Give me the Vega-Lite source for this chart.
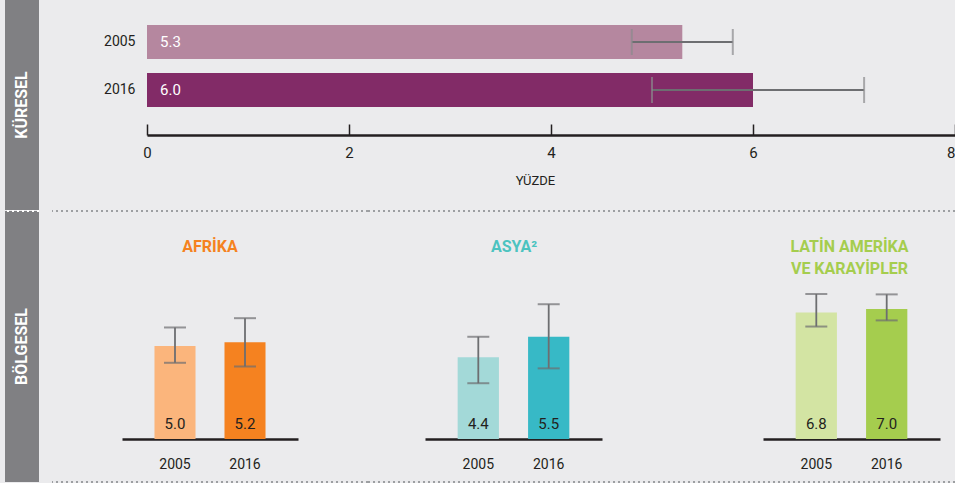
{
  "$schema": "https://vega.github.io/schema/vega-lite/v6.json",
  "background": "#ebebed",
  "padding": {"left": 4, "top": 0, "right": 0, "bottom": 0},
  "config": {
    "view": {"stroke": null},
    "font": "Roboto, Liberation Sans, sans-serif",
    "axis": {"grid": false}
  },
  "spacing": 11,
  "resolve": {"scale": {"x": "independent", "y": "independent"}},
  "hconcat": [
    {
      "spacing": 0,
      "resolve": {"scale": {"x": "independent", "y": "independent"}},
      "vconcat": [
        {
          "width": 34,
          "height": 210,
          "view": {"fill": "#808083", "stroke": null},
          "data": {"values": [{"label": "KÜRESEL"}]},
          "mark": {"type": "text", "angle": 270, "color": "#ffffff", "fontSize": 16, "fontWeight": "bold"},
          "encoding": {"text": {"field": "label", "type": "nominal"}}
        },
        {
          "width": 34,
          "height": 271,
          "view": {"fill": "#808083", "stroke": null},
          "layer": [
            {
              "data": {"values": [{"label": "BÖLGESEL"}]},
              "mark": {"type": "text", "angle": 270, "color": "#ffffff", "fontSize": 16, "fontWeight": "bold"},
              "encoding": {"text": {"field": "label", "type": "nominal"}}
            },
            {
              "data": {"values": [{"edge": "top"}]},
              "mark": {"type": "rule", "color": "#ffffff", "strokeWidth": 2, "strokeDash": [2, 3]},
              "encoding": {"y": {"field": "edge", "type": "nominal", "scale": {"type": "point", "padding": 0, "domain": ["top", "bottom"]}, "axis": null}}
            }
          ]
        }
      ]
    },
    {
      "spacing": 0,
      "resolve": {"scale": {"x": "independent", "y": "independent"}},
      "vconcat": [
        {
          "width": 903,
          "height": 210,
          "data": {"values": [
            {"year": "2005", "value": 5.3, "lo": 4.8, "hi": 5.8},
            {"year": "2016", "value": 6.0, "lo": 5.0, "hi": 7.1}
          ]},
          "encoding": {
            "y": {
              "field": "year", "type": "nominal",
              "scale": {"range": [18, 114], "paddingInner": 0.2917, "paddingOuter": 0.1458},
              "axis": {"orient": "left", "offset": -95, "title": null, "domain": false, "ticks": false, "labelPadding": 12, "labelFontSize": 14, "labelColor": "#231f20"}
            }
          },
          "layer": [
            {
              "mark": {"type": "bar"},
              "encoding": {
                "x": {
                  "field": "value", "type": "quantitative",
                  "scale": {"domain": [0, 8], "range": [95, 903], "nice": false},
                  "axis": {
                    "orient": "bottom", "offset": -75, "values": [0, 2, 4, 6, 8], "format": "d",
                    "title": "YÜZDE", "titleFontSize": 13, "titleFontWeight": "normal", "titleColor": "#231f20",
                    "titleX": 483, "titleY": 39, "titleBaseline": "top", "titleAlign": "center",
                    "domainColor": "#231f20", "domainWidth": 2.5,
                    "ticks": true, "tickColor": "#231f20", "tickWidth": 1.5, "tickSize": -11,
                    "labelPadding": 21, "labelFontSize": 15, "labelColor": "#231f20", "labelFlush": false,
                    "labelAlign": {"expr": "datum.value == 8 ? 'right' : 'center'"}
                  }
                },
                "color": {"condition": {"test": "datum.year === '2005'", "value": "#b5879f"}, "value": "#822b67"}
              }
            },
            {
              "mark": {"type": "rule", "color": "#6d6e71", "strokeWidth": 1.8},
              "encoding": {"x": {"field": "lo", "type": "quantitative"}, "x2": {"field": "hi"}}
            },
            {
              "mark": {"type": "tick", "color": "#8a8a8d", "thickness": 2, "size": 26},
              "encoding": {"x": {"field": "lo", "type": "quantitative"}}
            },
            {
              "mark": {"type": "tick", "color": "#8a8a8d", "thickness": 2, "size": 26},
              "encoding": {"x": {"field": "hi", "type": "quantitative"}}
            },
            {
              "mark": {"type": "text", "align": "left", "dx": 13, "color": "#ffffff", "fontSize": 15},
              "encoding": {
                "x": {"datum": 0, "type": "quantitative"},
                "text": {"field": "value", "type": "quantitative", "format": ".1f"}
              }
            }
          ]
        },
        {
          "bounds": "flush",
          "spacing": 0,
          "resolve": {"scale": {"x": "independent", "y": "independent"}},
          "hconcat": [
            {
              "width": 316,
              "height": 271,
              "title": {"text": "AFRİKA", "color": "#f58220", "fontSize": 16, "fontWeight": "bold", "anchor": "middle", "frame": "group", "offset": -45},
              "resolve": {"scale": {"y": "independent"}},
              "layer": [
                {
                  "data": {"values": [
                    {"year": "2005", "value": 5.0, "lo": 4.1, "hi": 6.0},
                    {"year": "2016", "value": 5.2, "lo": 3.9, "hi": 6.5}
                  ]},
                  "encoding": {
                    "x": {
                      "field": "year", "type": "nominal",
                      "scale": {"range": [70, 246], "paddingInner": 0.414, "paddingOuter": 0.464},
                      "axis": {"orient": "bottom", "offset": -43, "title": null, "ticks": false, "domainColor": "#231f20", "domainWidth": 2.5, "labelPadding": 18, "labelFontSize": 14, "labelColor": "#231f20", "labelAngle": 0}
                    }
                  },
                  "layer": [
                    {
                      "mark": {"type": "bar"},
                      "encoding": {
                        "y": {"field": "value", "type": "quantitative", "scale": {"domain": [0, 8.5], "range": [228, 70], "nice": false}, "axis": null},
                        "color": {"condition": {"test": "datum.year === '2005'", "value": "#fbb57c"}, "value": "#f58220"}
                      }
                    },
                    {
                      "mark": {"type": "rule", "color": "#6d6e71", "strokeWidth": 1.8},
                      "encoding": {"y": {"field": "lo", "type": "quantitative"}, "y2": {"field": "hi"}}
                    },
                    {
                      "mark": {"type": "tick", "color": "#6d6e71", "thickness": 2, "size": 22},
                      "encoding": {"y": {"field": "lo", "type": "quantitative"}}
                    },
                    {
                      "mark": {"type": "tick", "color": "#6d6e71", "thickness": 2, "size": 22},
                      "encoding": {"y": {"field": "hi", "type": "quantitative"}}
                    },
                    {
                      "mark": {"type": "text", "dy": -10, "baseline": "alphabetic", "fontSize": 15, "color": "#231f20"},
                      "encoding": {
                        "y": {"datum": 0, "type": "quantitative"},
                        "text": {"field": "value", "type": "quantitative", "format": ".1f"}
                      }
                    }
                  ]
                },
                {
                  "data": {"values": [{"edge": "top"}, {"edge": "bottom"}]},
                  "mark": {"type": "rule", "color": "#9d9fa2", "strokeWidth": 2, "strokeDash": [2, 3]},
                  "encoding": {"y": {"field": "edge", "type": "nominal", "scale": {"type": "point", "padding": 0, "domain": ["top", "bottom"]}, "axis": null}}
                }
              ]
            },
            {
              "width": 292,
              "height": 271,
              "title": {"text": "ASYA²", "color": "#4cc3c0", "fontSize": 16, "fontWeight": "bold", "anchor": "middle", "frame": "group", "offset": -45},
              "resolve": {"scale": {"y": "independent"}},
              "layer": [
                {
                  "data": {"values": [
                    {"year": "2005", "value": 4.4, "lo": 3.0, "hi": 5.5},
                    {"year": "2016", "value": 5.5, "lo": 3.8, "hi": 7.25}
                  ]},
                  "encoding": {
                    "x": {
                      "field": "year", "type": "nominal",
                      "scale": {"range": [57, 234], "paddingInner": 0.414, "paddingOuter": 0.464},
                      "axis": {"orient": "bottom", "offset": -43, "title": null, "ticks": false, "domainColor": "#231f20", "domainWidth": 2.5, "labelPadding": 18, "labelFontSize": 14, "labelColor": "#231f20", "labelAngle": 0}
                    }
                  },
                  "layer": [
                    {
                      "mark": {"type": "bar"},
                      "encoding": {
                        "y": {"field": "value", "type": "quantitative", "scale": {"domain": [0, 8.5], "range": [228, 70], "nice": false}, "axis": null},
                        "color": {"condition": {"test": "datum.year === '2005'", "value": "#a3d9d8"}, "value": "#37b9c6"}
                      }
                    },
                    {
                      "mark": {"type": "rule", "color": "#6d6e71", "strokeWidth": 1.8},
                      "encoding": {"y": {"field": "lo", "type": "quantitative"}, "y2": {"field": "hi"}}
                    },
                    {
                      "mark": {"type": "tick", "color": "#6d6e71", "thickness": 2, "size": 22},
                      "encoding": {"y": {"field": "lo", "type": "quantitative"}}
                    },
                    {
                      "mark": {"type": "tick", "color": "#6d6e71", "thickness": 2, "size": 22},
                      "encoding": {"y": {"field": "hi", "type": "quantitative"}}
                    },
                    {
                      "mark": {"type": "text", "dy": -10, "baseline": "alphabetic", "fontSize": 15, "color": "#231f20"},
                      "encoding": {
                        "y": {"datum": 0, "type": "quantitative"},
                        "text": {"field": "value", "type": "quantitative", "format": ".1f"}
                      }
                    }
                  ]
                },
                {
                  "data": {"values": [{"edge": "top"}, {"edge": "bottom"}]},
                  "mark": {"type": "rule", "color": "#9d9fa2", "strokeWidth": 2, "strokeDash": [2, 3]},
                  "encoding": {"y": {"field": "edge", "type": "nominal", "scale": {"type": "point", "padding": 0, "domain": ["top", "bottom"]}, "axis": null}}
                }
              ]
            },
            {
              "width": 295,
              "height": 271,
              "title": {"text": "LATİN AMERİKA", "subtitle": "VE KARAYİPLER", "color": "#a5cd4e", "subtitleColor": "#a5cd4e", "fontSize": 16, "subtitleFontSize": 16, "fontWeight": "bold", "subtitleFontWeight": "bold", "subtitlePadding": 6, "anchor": "middle", "frame": "group", "offset": -67, "dx": 42},
              "resolve": {"scale": {"y": "independent"}},
              "layer": [
                {
                  "data": {"values": [
                    {"year": "2005", "value": 6.8, "lo": 6.05, "hi": 7.8},
                    {"year": "2016", "value": 7.0, "lo": 6.38, "hi": 7.78}
                  ]},
                  "encoding": {
                    "x": {
                      "field": "year", "type": "nominal",
                      "scale": {"range": [103, 280], "paddingInner": 0.414, "paddingOuter": 0.464},
                      "axis": {"orient": "bottom", "offset": -43, "title": null, "ticks": false, "domainColor": "#231f20", "domainWidth": 2.5, "labelPadding": 18, "labelFontSize": 14, "labelColor": "#231f20", "labelAngle": 0}
                    }
                  },
                  "layer": [
                    {
                      "mark": {"type": "bar"},
                      "encoding": {
                        "y": {"field": "value", "type": "quantitative", "scale": {"domain": [0, 8.5], "range": [228, 70], "nice": false}, "axis": null},
                        "color": {"condition": {"test": "datum.year === '2005'", "value": "#d3e4a3"}, "value": "#a5cd4e"}
                      }
                    },
                    {
                      "mark": {"type": "rule", "color": "#6d6e71", "strokeWidth": 1.8},
                      "encoding": {"y": {"field": "lo", "type": "quantitative"}, "y2": {"field": "hi"}}
                    },
                    {
                      "mark": {"type": "tick", "color": "#6d6e71", "thickness": 2, "size": 22},
                      "encoding": {"y": {"field": "lo", "type": "quantitative"}}
                    },
                    {
                      "mark": {"type": "tick", "color": "#6d6e71", "thickness": 2, "size": 22},
                      "encoding": {"y": {"field": "hi", "type": "quantitative"}}
                    },
                    {
                      "mark": {"type": "text", "dy": -10, "baseline": "alphabetic", "fontSize": 15, "color": "#231f20"},
                      "encoding": {
                        "y": {"datum": 0, "type": "quantitative"},
                        "text": {"field": "value", "type": "quantitative", "format": ".1f"}
                      }
                    }
                  ]
                },
                {
                  "data": {"values": [{"edge": "top"}, {"edge": "bottom"}]},
                  "mark": {"type": "rule", "color": "#9d9fa2", "strokeWidth": 2, "strokeDash": [2, 3]},
                  "encoding": {"y": {"field": "edge", "type": "nominal", "scale": {"type": "point", "padding": 0, "domain": ["top", "bottom"]}, "axis": null}}
                }
              ]
            }
          ]
        }
      ]
    }
  ]
}
